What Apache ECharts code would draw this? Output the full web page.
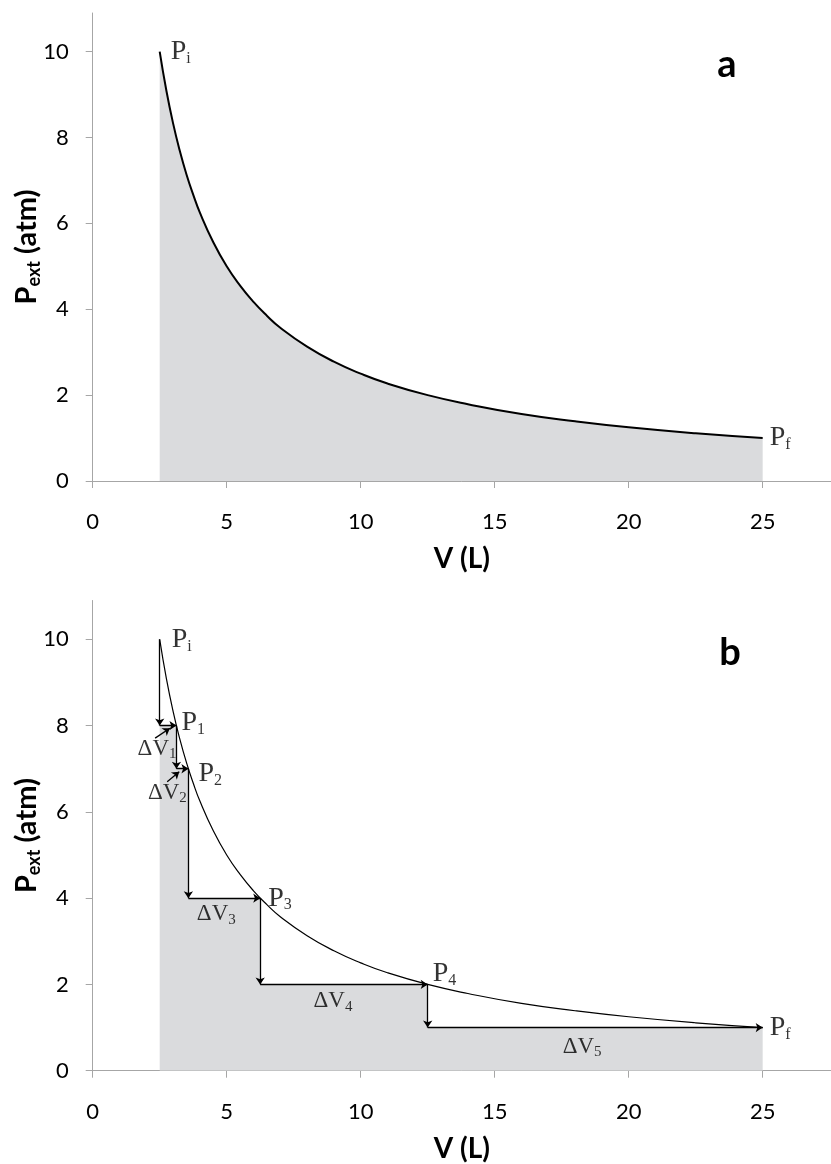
<!DOCTYPE html>
<html>
<head>
<meta charset="utf-8">
<script src="https://cdn.jsdelivr.net/npm/echarts@6/dist/echarts.min.js"></script>
<style>
html,body{margin:0;padding:0;background:#fff;}
#chart{width:831px;height:1164px;}
</style>
</head>
<body>
<div id="chart"></div>
<script>
// ---- data ----
const curveV = [2.5, 2.75, 3, 3.25, 3.5, 3.75, 4, 4.5, 5, 5.5, 6, 6.5, 7, 8, 9, 10, 11, 12.5, 14, 16, 18, 20, 22.5, 25];
const curveP = [10, 9.09, 8.33, 7.69, 7.14, 6.67, 6.25, 5.56, 5, 4.55, 4.17, 3.85, 3.57, 3.13, 2.78, 2.5, 2.27, 2, 1.79, 1.56, 1.39, 1.25, 1.11, 1];
const stepV = [2.5, 3.125, 3.571, 6.25, 12.5, 25];
const stepP = [10, 8, 7, 4, 2, 1];
const topPointV = [2.5, 25];
const topPointP = [10, 1];
const topPointSubs = ['i', 'f'];
const stepPointSubs = ['i', '1', '2', '3', '4', 'f'];
const deltaSubs = ['1', '2', '3', '4', '5'];
const xTicks = [0, 5, 10, 15, 20, 25];
const yTicks = [0, 2, 4, 6, 8, 10];
const panelLetters = ['a', 'b'];
const xTitle = 'V (L)';

// ---- build ----
const AX = '#a6a6a6';
const SHADE = '#dadbdd';
const sans = 'Lato';
const serif = 'Liberation Serif';

const curve = curveV.map((v, i) => [v, curveP[i]]);

function xAxis(gi) {
  return {
    type: 'value', gridIndex: gi, min: 0, max: 27.55,
    name: xTitle, nameLocation: 'middle', nameGap: 64, nameMoveOverlap: false,
    nameTextStyle: { fontFamily: sans, fontWeight: 'bold', fontSize: 28, color: '#000' },
    axisLine: { show: true, onZero: false, lineStyle: { color: AX, width: 1 } },
    axisTick: { show: true, length: 7, lineStyle: { color: AX }, customValues: xTicks },
    axisLabel: { fontFamily: sans, fontSize: 22, color: '#000', margin: 30, customValues: xTicks },
    splitLine: { show: false }
  };
}
function yAxis(gi) {
  return {
    type: 'value', gridIndex: gi, min: 0, max: 10.9,
    name: '{b|P}{s|ext}{b| (atm)}', nameLocation: 'middle', nameGap: 50, nameRotate: 90, nameMoveOverlap: false,
    nameTextStyle: {
      rich: {
        b: { fontFamily: sans, fontWeight: 'bold', fontSize: 29, lineHeight: 32, color: '#000' },
        s: { fontFamily: sans, fontWeight: 'bold', fontSize: 18, lineHeight: 18, verticalAlign: 'bottom', color: '#000' }
      }
    },
    axisLine: { show: true, lineStyle: { color: AX, width: 1 } },
    axisTick: { show: true, length: 7, lineStyle: { color: AX }, customValues: yTicks },
    axisLabel: { fontFamily: sans, fontSize: 22, color: '#000', margin: 24, customValues: yTicks },
    splitLine: { show: false }
  };
}

const pRich = {
  p: { fontFamily: serif, fontSize: 28, lineHeight: 30, color: '#000' },
  s: { fontFamily: serif, fontSize: 16, lineHeight: 16, verticalAlign: 'bottom', color: '#000' }
};
const dRich = {
  d: { fontFamily: serif, fontSize: 23, lineHeight: 26, color: '#000' },
  s: { fontFamily: serif, fontSize: 15, lineHeight: 14, verticalAlign: 'bottom', color: '#000' }
};

function pointLabels(vs, ps, subs, gi, tweaks) {
  return {
    type: 'scatter', xAxisIndex: gi, yAxisIndex: gi, symbolSize: 0, silent: true, z: 10,
    data: vs.map((v, i) => {
      const t = (tweaks && tweaks[i]) || {};
      return {
        value: [v, ps[i]],
        label: {
          show: true, position: 'right', distance: t.d != null ? t.d : 8,
          offset: t.o || [0, 0],
          formatter: '{p|P}{s|' + subs[i] + '}', rich: pRich
        }
      };
    })
  };
}

// step arrows
const arrows = [];
for (let i = 0; i < stepV.length - 1; i++) {
  arrows.push({ coords: [[stepV[i], stepP[i]], [stepV[i], stepP[i + 1]]] });
  arrows.push({ coords: [[stepV[i], stepP[i + 1]], [stepV[i + 1], stepP[i + 1]]] });
}
// pointer arrows from the first two ΔV labels
arrows.push({ coords: [[2.33, 7.71], [2.88, 7.94]] });
arrows.push({ coords: [[2.78, 6.70], [3.23, 6.93]] });

// shaded staircase
const shade = [];
for (let i = 0; i < stepV.length - 1; i++) shade.push([stepV[i], stepP[i + 1]]);
shade.push([stepV[stepV.length - 1], stepP[stepP.length - 1]]);

// ΔV labels: anchored at the middle of each horizontal step
const dvOffsets = [[-11, 23], [-15, 24], [-8, 16], [-11, 17], [-13, 19]];
const dvData = deltaSubs.map((s, i) => ({
  value: [(stepV[i] + stepV[i + 1]) / 2, stepP[i + 1]],
  label: {
    show: true, position: 'inside', offset: dvOffsets[i],
    formatter: '{d|ΔV}{s|' + s + '}', rich: dRich
  }
}));

const option = {
  animation: false,
  backgroundColor: '#fff',
  grid: [
    { left: 92.7, right: 0, top: 13, height: 468, containLabel: false, outerBoundsMode: 'none' },
    { left: 92.7, right: 0, top: 600.5, height: 470.2, containLabel: false, outerBoundsMode: 'none' }
  ],
  xAxis: [xAxis(0), xAxis(1)],
  yAxis: [yAxis(0), yAxis(1)],
  graphic: [
    { type: 'text', x: 727, y: 65, style: { text: panelLetters[0], fontFamily: sans, fontWeight: 'bold', fontSize: 38, fill: '#000', align: 'center', verticalAlign: 'middle' } },
    { type: 'text', x: 730, y: 653, style: { text: panelLetters[1], fontFamily: sans, fontWeight: 'bold', fontSize: 38, fill: '#000', align: 'center', verticalAlign: 'middle' } }
  ],
  series: [
    {
      type: 'line', xAxisIndex: 0, yAxisIndex: 0, data: curve, smooth: 0.5,
      showSymbol: false, symbol: 'none',
      lineStyle: { color: '#000', width: 2 },
      areaStyle: { color: SHADE, opacity: 1 }
    },
    pointLabels(topPointV, topPointP, topPointSubs, 0, [{ d: 11 }, { d: 7 }]),
    {
      type: 'line', xAxisIndex: 1, yAxisIndex: 1, data: shade, step: 'end',
      showSymbol: false, symbol: 'none',
      lineStyle: { width: 0, opacity: 0 },
      areaStyle: { color: SHADE, opacity: 1 }, z: 1
    },
    {
      type: 'line', xAxisIndex: 1, yAxisIndex: 1, data: curve, smooth: 0.5,
      showSymbol: false, symbol: 'none',
      lineStyle: { color: '#000', width: 1.2 }, z: 3
    },
    {
      type: 'lines', coordinateSystem: 'cartesian2d', xAxisIndex: 1, yAxisIndex: 1,
      symbol: ['none', 'arrow'], symbolSize: 7, silent: true, z: 4,
      lineStyle: { color: '#000', width: 1.3, opacity: 1, curveness: 0 },
      data: arrows
    },
    pointLabels(stepV, stepP, stepPointSubs, 1, [{ d: 12 }, { d: 5, o: [0, -3] }, { d: 10, o: [0, 5] }, { d: 8 }, { d: 5, o: [0, -11] }, { d: 7 }]),
    {
      type: 'scatter', xAxisIndex: 1, yAxisIndex: 1, symbolSize: 0, silent: true, z: 10,
      data: dvData
    }
  ]
};

const chart = echarts.init(document.getElementById('chart'), null, { renderer: 'canvas' });
chart.setOption(option);
</script>
</body>
</html>
